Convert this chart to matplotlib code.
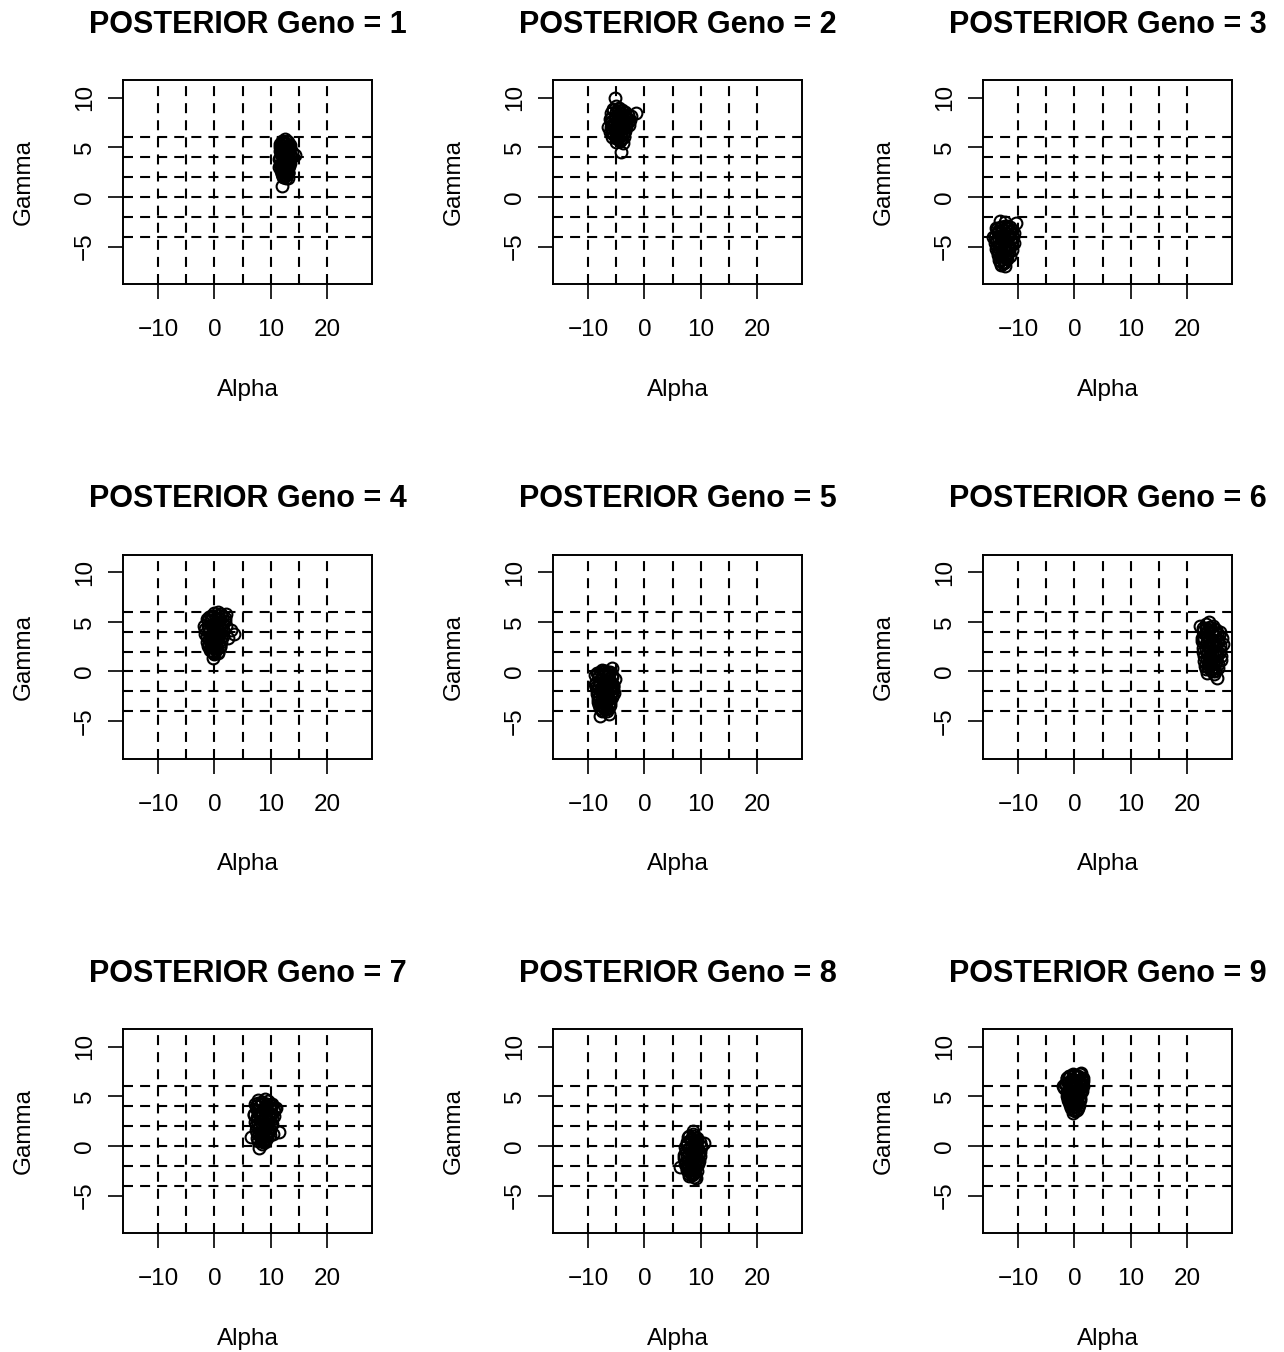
import matplotlib.pyplot as plt

plt.rcParams['font.family'] = ['Liberation Sans', 'DejaVu Sans']

# posterior draws (alpha, gamma) for each genotype
alpha_1 = [12.0, 12.5, 13.0, 13.4, 11.6, 12.2, 12.8, 13.3, 11.8, 12.4, 13.0, 13.6, 11.5, 12.1, 12.7, 13.2, 11.7, 12.3,
           12.9, 13.5, 11.9, 12.6, 13.1, 12.0, 12.5, 13.0, 12.2, 12.8, 14.4, 12.0, 11.8, 13.2, 12.6, 12.4, 13.8, 11.4,
           11.7, 12.0, 12.3, 12.6, 12.9, 13.2, 13.5, 11.6, 11.9, 12.2, 12.5, 12.8, 13.1, 13.4, 11.7, 12.0, 12.3, 12.6,
           12.9, 13.2, 13.5, 11.8, 12.1, 12.4, 12.7, 13.0, 13.3, 11.9, 12.2, 12.5, 12.8, 13.1, 12.1, 12.4, 12.7, 13.0]
gamma_1 = [5.6, 5.8, 5.5, 5.2, 5.0, 4.9, 5.0, 4.6, 4.3, 4.4, 4.2, 4.0, 3.8, 3.7, 3.9, 3.5, 3.2, 3.3,
           3.0, 3.4, 2.8, 2.7, 2.5, 2.3, 2.2, 2.4, 2.0, 1.9, 4.2, 1.1, 4.6, 4.8, 3.6, 3.0, 4.5, 3.0,
           5.3, 5.4, 5.5, 5.3, 5.6, 5.1, 4.9, 4.6, 4.8, 4.5, 4.7, 4.4, 4.6, 4.3, 3.9, 4.1, 3.8, 4.0,
           3.6, 3.9, 3.7, 3.1, 3.4, 3.0, 3.2, 2.9, 3.1, 2.6, 2.8, 2.5, 2.7, 2.4, 2.1, 2.0, 2.2, 1.9]

alpha_2 = [-5.2, -1.5, -4.1, -6.5, -6.0, -5.5, -5.0, -4.5, -4.0, -3.5, -3.0, -2.6, -6.2, -5.6, -5.0, -4.4, -3.8, -3.2, -2.8,
           -5.8, -5.2, -4.6, -4.0, -3.4, -5.4, -4.8, -4.2, -3.6, -5.0, -4.4, -3.8, -4.7, -4.2, -3.1, -2.4, -5.9, -4.9,
           -5.9, -5.5, -5.1, -4.7, -4.3, -3.9, -3.5, -3.1, -6.1, -5.7, -5.3, -4.9, -4.5, -4.1, -3.7, -3.3, -2.9,
           -6.0, -5.6, -5.2, -4.8, -4.4, -4.0, -3.6, -3.2, -5.7, -5.3, -4.9, -4.5, -4.1, -3.7, -5.1, -4.7, -4.3, -3.9]
gamma_2 = [10.0, 8.5, 4.5, 7.0, 8.0, 8.8, 9.2, 9.0, 8.8, 8.6, 8.3, 7.8, 6.5, 7.4, 8.2, 8.0, 7.8, 7.5, 7.2,
           6.0, 6.8, 7.2, 7.0, 6.6, 6.2, 6.0, 6.4, 6.0, 5.5, 5.6, 5.4, 7.6, 8.4, 8.0, 8.2, 7.6, 6.5,
           8.5, 8.9, 8.6, 8.9, 8.5, 8.7, 8.2, 7.9, 7.9, 7.7, 8.0, 7.6, 7.9, 7.5, 7.8, 7.4, 7.6,
           7.0, 7.1, 6.8, 7.1, 6.7, 7.2, 6.9, 7.0, 6.4, 6.6, 6.3, 6.5, 6.2, 6.4, 5.9, 5.8, 5.7, 5.9]

alpha_3 = [-13.2, -12.4, -10.3, -14.4, -13.8, -13.0, -12.2, -11.4, -10.8, -14.2, -13.5, -12.8, -12.0, -11.3, -10.7, -13.9,
           -13.2, -12.5, -11.8, -11.1, -13.6, -12.9, -12.2, -11.5, -13.4, -12.6, -11.9, -13.1, -12.4, -12.8, -13.5, -12.0,
           -11.6, -14.0, -12.6,
           -13.9, -13.5, -13.1, -12.7, -12.3, -11.9, -11.5, -11.1, -14.1, -13.7, -13.3, -12.9, -12.5, -12.1, -11.7,
           -11.3, -10.9, -13.8, -13.4, -13.0, -12.6, -12.2, -11.8, -11.4, -13.6, -13.2, -12.8, -12.4, -12.0, -11.6,
           -13.3, -12.9, -12.5, -12.1, -13.0, -12.6]
gamma_3 = [-2.4, -2.5, -2.6, -4.0, -3.2, -3.0, -3.1, -3.4, -3.6, -4.6, -4.0, -3.8, -3.9, -4.2, -4.6, -5.2,
           -4.8, -4.5, -4.7, -5.3, -5.8, -5.6, -5.4, -5.9, -6.3, -6.5, -6.2, -6.8, -6.9, -4.2, -3.6, -2.9,
           -5.0, -4.4, -5.2,
           -3.1, -3.4, -3.0, -3.3, -2.9, -3.2, -3.0, -3.3, -4.0, -4.3, -3.9, -4.2, -4.0, -4.3, -3.9,
           -4.1, -4.0, -5.0, -4.8, -5.1, -4.9, -5.2, -4.8, -5.0, -5.6, -5.9, -5.7, -6.0, -5.6, -5.5,
           -6.4, -6.2, -6.5, -6.1, -6.7, -6.6]

alpha_4 = [-0.2, 3.0, 2.0, 3.4, -1.8, -1.2, -0.6, 0.0, 0.6, 1.2, 1.8, -1.6, -1.0, -0.4, 0.2, 0.8, 1.4, 2.0, -1.4,
           -0.8, -0.2, 0.4, 1.0, 1.6, -1.2, -0.6, 0.0, 0.6, 1.2, -0.8, -0.2, 0.4, 1.0, 0.0, 0.6, -0.4, 2.4,
           -1.4, -1.0, -0.6, -0.2, 0.2, 0.6, 1.0, 1.4, 1.8, -1.6, -1.2, -0.8, -0.4, 0.0, 0.4, 0.8, 1.2, 1.6,
           -1.3, -0.9, -0.5, -0.1, 0.3, 0.7, 1.1, 1.5, -1.0, -0.6, -0.2, 0.2, 0.6, 1.0, -0.5, -0.1, 0.3, 0.7]
gamma_4 = [1.4, 4.2, 5.8, 3.8, 4.6, 5.2, 5.6, 5.9, 6.0, 5.8, 5.4, 3.8, 4.4, 4.8, 5.0, 4.6, 4.9, 4.6, 3.0,
           3.6, 4.0, 4.2, 3.8, 4.2, 2.6, 2.8, 3.2, 3.4, 3.0, 2.2, 2.0, 2.4, 2.6, 1.8, 1.9, 3.3, 3.4,
           5.3, 5.5, 5.2, 5.6, 5.4, 5.7, 5.3, 5.5, 5.1, 4.3, 4.5, 4.2, 4.6, 4.3, 4.5, 4.1, 4.4, 4.2,
           3.5, 3.3, 3.6, 3.4, 3.7, 3.3, 3.5, 3.6, 2.7, 2.5, 2.8, 2.6, 2.9, 2.5, 2.1, 1.9, 2.2, 2.0]

alpha_5 = [-7.9, -6.3, -5.8, -7.2, -8.8, -8.2, -7.6, -7.0, -6.4, -5.8, -5.2, -8.6, -8.0, -7.4, -6.8, -6.2, -5.6, -8.4, -7.8,
           -7.2, -6.6, -6.0, -5.4, -8.2, -7.6, -7.0, -6.4, -5.8, -8.0, -7.4, -6.8, -6.2, -7.6, -7.0, -6.6, -8.6, -5.5,
           -8.5, -8.1, -7.7, -7.3, -6.9, -6.5, -6.1, -5.7, -8.7, -8.3, -7.9, -7.5, -7.1, -6.7, -6.3, -5.9, -5.5,
           -8.4, -8.0, -7.6, -7.2, -6.8, -6.4, -6.0, -5.6, -8.2, -7.8, -7.4, -7.0, -6.6, -6.2, -7.9, -7.5, -7.1,
           -6.7, -6.3]
gamma_5 = [-4.5, -4.3, 0.4, 0.0, -0.4, -0.2, 0.2, 0.0, -0.1, -0.4, -0.8, -1.2, -1.0, -1.4, -1.2, -1.0, -1.5, -2.0, -1.8,
           -2.2, -2.0, -1.8, -2.2, -2.8, -2.6, -3.0, -2.8, -2.6, -3.4, -3.6, -3.2, -3.4, -4.0, -3.8, -4.0, -1.6, -1.4,
           -0.2, -0.5, -0.1, -0.4, -0.2, -0.5, -0.1, -0.6, -1.3, -1.6, -1.2, -1.5, -1.3, -1.6, -1.2, -1.4, -1.7,
           -2.3, -2.5, -2.2, -2.6, -2.4, -2.5, -2.2, -2.0, -3.1, -3.3, -3.0, -3.2, -3.0, -3.1, -3.7, -3.9, -3.6,
           -3.8, -3.6]

alpha_6 = [22.3, 25.4, 24.6, 22.8, 23.4, 24.0, 24.6, 25.2, 25.8, 22.6, 23.2, 23.8, 24.4, 25.0, 25.6, 26.2, 22.8, 23.4, 24.0,
           24.6, 25.2, 25.8, 23.0, 23.6, 24.2, 24.8, 25.4, 26.0, 23.2, 23.8, 24.4, 25.0, 23.6, 24.2, 24.8, 24.0, 26.4, 25.6,
           22.9, 23.3, 23.7, 24.1, 24.5, 24.9, 25.3, 25.7, 22.7, 23.1, 23.5, 23.9, 24.3, 24.7, 25.1, 25.5, 25.9,
           22.9, 23.3, 23.7, 24.1, 24.5, 24.9, 25.3, 25.7, 26.1, 23.1, 23.5, 23.9, 24.3, 24.7, 25.1, 25.5,
           23.4, 23.8, 24.2, 24.6, 25.0]
gamma_6 = [4.6, -0.7, 0.0, 4.4, 4.8, 5.0, 4.6, 4.2, 4.0, 3.4, 3.8, 3.6, 4.0, 3.6, 3.2, 3.4, 2.4, 2.8, 2.6,
           3.0, 2.6, 2.2, 1.6, 1.8, 1.4, 2.0, 1.6, 1.2, 0.6, 0.8, 0.4, 0.8, -0.2, 0.2, -0.3, 3.2, 2.8, 0.4,
           4.1, 4.4, 4.2, 4.5, 4.1, 4.3, 3.9, 3.7, 3.1, 3.3, 3.0, 3.2, 2.9, 3.1, 2.8, 3.0, 2.7,
           2.0, 2.2, 1.9, 2.1, 1.8, 2.0, 1.7, 1.9, 1.6, 1.1, 1.3, 1.0, 1.2, 0.9, 1.1, 0.8,
           0.3, 0.5, 0.2, 0.4, 0.1]

alpha_7 = [7.9, 6.5, 11.4, 7.2, 7.8, 8.4, 9.0, 9.6, 10.2, 10.8, 7.0, 7.6, 8.2, 8.8, 9.4, 10.0, 10.6, 7.2, 7.8,
           8.4, 9.0, 9.6, 10.2, 7.4, 8.0, 8.6, 9.2, 9.8, 10.4, 7.6, 8.2, 8.8, 9.4, 8.4, 9.0, 10.0, 9.5, 11.0,
           7.3, 7.7, 8.1, 8.5, 8.9, 9.3, 9.7, 10.1, 10.5, 7.1, 7.5, 7.9, 8.3, 8.7, 9.1, 9.5, 9.9, 10.3,
           7.3, 7.7, 8.1, 8.5, 8.9, 9.3, 9.7, 10.1, 7.5, 7.9, 8.3, 8.7, 9.1, 9.5, 9.9, 7.8, 8.2, 8.6, 9.0, 9.4]
gamma_7 = [-0.2, 0.9, 1.4, 4.2, 4.6, 4.4, 4.7, 4.5, 4.2, 3.8, 3.2, 3.6, 3.4, 3.8, 3.6, 3.2, 3.0, 2.4, 2.8,
           2.6, 3.0, 2.6, 2.2, 1.6, 1.8, 1.4, 2.0, 1.6, 1.2, 0.8, 1.0, 0.6, 1.0, 0.2, 0.4, 3.8, 2.4, 3.8,
           4.0, 4.3, 4.1, 4.4, 4.0, 4.2, 3.9, 4.1, 3.5, 3.1, 2.9, 3.3, 3.0, 3.2, 2.8, 3.1, 2.9, 2.7,
           2.1, 2.3, 2.0, 2.2, 1.9, 2.1, 1.8, 2.0, 1.3, 1.1, 1.4, 1.2, 1.0, 1.3, 1.1, 0.5, 0.7, 0.4, 0.6, 0.8]

alpha_8 = [8.6, 10.6, 6.4, 8.8, 8.0, 8.6, 9.2, 7.6, 8.2, 8.8, 9.4, 10.0, 7.4, 8.0, 8.6, 9.2, 9.8, 7.0, 7.6,
           8.2, 8.8, 9.4, 7.2, 7.8, 8.4, 9.0, 9.6, 7.6, 8.2, 8.8, 9.4, 8.0, 8.6, 9.2, 8.4, 9.0, 8.2,
           7.8, 8.2, 8.6, 9.0, 9.4, 9.8, 7.2, 7.6, 8.0, 8.4, 8.8, 9.2, 9.6, 10.0, 7.1, 7.5, 7.9, 8.3, 8.7, 9.1,
           9.5, 9.9, 7.3, 7.7, 8.1, 8.5, 8.9, 9.3, 9.7, 7.6, 8.0, 8.4, 8.8, 9.2, 8.0, 8.4, 8.8]
gamma_8 = [1.5, 0.3, -2.1, -3.1, 1.0, 1.2, 0.8, 0.4, 0.6, 0.2, 0.5, 0.0, -0.4, -0.2, -0.6, -0.2, -0.6, -1.2, -1.0,
           -1.4, -1.0, -1.3, -1.8, -2.0, -1.6, -2.0, -1.8, -2.4, -2.6, -2.2, -2.5, -3.0, -2.8, -3.2, 0.0, -0.8, -1.8,
           0.9, 0.7, 1.0, 0.6, 0.8, 0.4, -0.1, 0.1, -0.3, 0.0, -0.2, 0.1, -0.3, -0.1, -0.9, -1.1, -0.8, -1.2, -0.9, -1.1,
           -0.8, -1.0, -1.6, -1.9, -1.7, -2.0, -1.6, -1.8, -1.5, -2.3, -2.5, -2.2, -2.4, -2.1, -2.8, -2.9, -2.7]

alpha_9 = [1.2, -2.0, -0.2, 0.4, -1.4, -0.8, -0.2, 0.4, 1.0, 1.6, -1.6, -1.0, -0.4, 0.2, 0.8, 1.4, -1.8, -1.2, -0.6,
           0.0, 0.6, 1.2, -1.4, -0.8, -0.2, 0.4, 1.0, -1.0, -0.4, 0.2, 0.8, -0.6, 0.0, 0.6, -0.2, 1.6, -1.2,
           -1.3, -0.9, -0.5, -0.1, 0.3, 0.7, 1.1, 1.5, -1.5, -1.1, -0.7, -0.3, 0.1, 0.5, 0.9, 1.3,
           -1.4, -1.0, -0.6, -0.2, 0.2, 0.6, 1.0, 1.4, -1.1, -0.7, -0.3, 0.1, 0.5, 0.9, -0.8, -0.4, 0.0, 0.4, 0.8,
           -0.3, 0.1]
gamma_9 = [7.4, 6.0, 3.3, 3.6, 6.8, 7.0, 7.2, 7.0, 7.2, 6.8, 6.2, 6.4, 6.6, 6.4, 6.6, 6.2, 5.8, 5.6, 6.0,
           5.8, 5.6, 5.4, 5.0, 5.2, 5.0, 5.4, 4.8, 4.4, 4.6, 4.2, 4.6, 3.8, 4.0, 3.8, 4.4, 6.0, 4.8,
           6.8, 7.0, 6.7, 7.1, 6.9, 7.0, 6.7, 6.5, 6.1, 6.3, 6.0, 6.2, 5.9, 6.1, 6.3, 5.9,
           5.4, 5.3, 5.5, 5.2, 5.4, 5.1, 5.3, 5.5, 4.6, 4.8, 4.5, 4.7, 4.9, 4.6, 4.1, 4.2, 3.9, 4.3, 4.1,
           3.6, 3.5]

alphas = [alpha_1, alpha_2, alpha_3, alpha_4, alpha_5, alpha_6, alpha_7, alpha_8, alpha_9]
gammas = [gamma_1, gamma_2, gamma_3, gamma_4, gamma_5, gamma_6, gamma_7, gamma_8, gamma_9]

x_ticks = [-10, 0, 10, 20]
y_ticks = [-5, 0, 5, 10]
v_lines = [-10, -5, 0, 5, 10, 15, 20]
h_lines = [-4, -2, 0, 2, 4, 6]

W, H = 1284, 1352
fig = plt.figure(figsize=(W / 100, H / 100), dpi=100)

for k in range(9):
    row, col = divmod(k, 3)
    left = 123 + 430 * col
    top = 80 + 474.5 * row
    ax = fig.add_axes([left / W, 1 - (top + 204) / H, 249 / W, 204 / H])

    for xv in v_lines:
        ax.axvline(xv, color="black", lw=1.5, linestyle=(0, (4.8, 3.4)), zorder=1)
    for yv in h_lines:
        ax.axhline(yv, color="black", lw=1.5, linestyle=(0, (4.8, 3.4)), zorder=1)

    ax.plot(alphas[k], gammas[k], "o", mfc="none", mec="black", ms=8.5, mew=1.5, zorder=3)

    ax.set_xlim(-16.25, 28.0)
    ax.set_ylim(-8.76, 11.78)
    ax.set_xticks(x_ticks)
    ax.set_yticks(y_ticks)
    ax.tick_params(direction="out", length=10.5, width=1.2, labelsize=17.5, colors="black")
    ax.tick_params(axis="x", pad=15)
    ax.tick_params(axis="y", pad=9)
    plt.setp(ax.get_yticklabels(), rotation=90, va="center")
    for sp in ax.spines.values():
        sp.set_linewidth(1.4)

    ax.set_xlabel("Alpha", fontsize=17.5, labelpad=27)
    ax.set_ylabel("Gamma", fontsize=17.5, labelpad=28)
    ax.set_title(f"POSTERIOR Geno = {k + 1}", fontsize=22, fontweight="bold", pad=34)

fig.savefig("out.png", dpi=100)
